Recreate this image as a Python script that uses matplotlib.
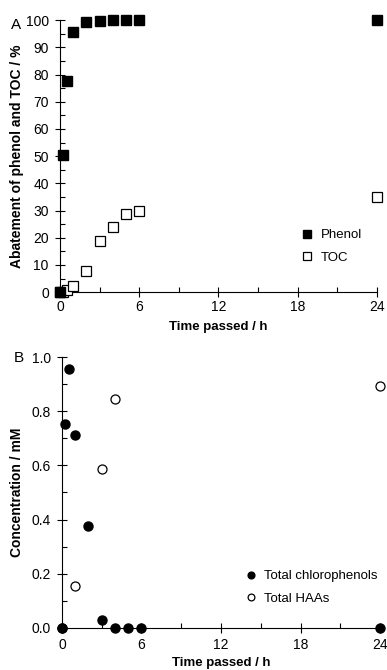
import matplotlib.pyplot as plt
from matplotlib.ticker import MultipleLocator

plt.rcParams['font.family'] = ['Liberation Sans', 'DejaVu Sans']

# panel A: abatement (%)
t_phenol = [0, 0.25, 0.5, 1, 2, 3, 4, 5, 6, 24]
phenol = [0, 50.3, 77.5, 95.5, 99.3, 99.8, 100, 100, 100, 100]
t_toc = [0, 0.25, 0.5, 1, 2, 3, 4, 5, 6, 24]
toc = [0, 0, 0.9, 2.1, 7.8, 18.9, 24.1, 28.8, 30.0, 35.0]

# panel B: concentration (mM)
t_cp = [0, 0.25, 0.5, 1, 2, 3, 4, 5, 6, 24]
chlorophenols = [0, 0.754, 0.957, 0.714, 0.376, 0.027, 0, 0, 0, 0]
t_haa = [0, 1, 3, 4, 24]
haas = [0, 0.155, 0.588, 0.846, 0.892]

fig = plt.figure(figsize=(3.87, 6.7), dpi=100)
axA = fig.add_axes([0.155, 0.564, 0.819, 0.406])
axB = fig.add_axes([0.160, 0.063, 0.822, 0.404])

def style(ax, xpad, lpad):
    for s in ['top', 'right']:
        ax.spines[s].set_visible(False)
    ax.set_xlim(0, 24)
    ax.xaxis.set_major_locator(MultipleLocator(6))
    ax.xaxis.set_minor_locator(MultipleLocator(3))
    ax.tick_params(which='major', direction='inout', length=7, width=0.8, labelsize=10)
    ax.tick_params(which='minor', direction='in', length=3.5, width=0.8)
    ax.tick_params(axis='x', pad=xpad)
    ax.tick_params(axis='y', pad=4.5)
    ax.set_xlabel('Time passed / h', fontsize=9.5, fontweight='bold', labelpad=lpad)

# A
axA.plot(t_toc, toc, 's', mfc='white', mec='black', mew=0.9, ms=7, clip_on=False, label='TOC', zorder=3)
axA.plot(t_phenol, phenol, 's', color='black', ms=7, clip_on=False, label='Phenol', zorder=4)
style(axA, 2, 5)
axA.set_ylim(0, 100)
axA.yaxis.set_major_locator(MultipleLocator(10))
axA.yaxis.set_minor_locator(MultipleLocator(5))
axA.set_ylabel('Abatement of phenol and TOC / %', fontsize=10, fontweight='bold')
axA.yaxis.set_label_coords(-0.114, 0.5)
h, l = axA.get_legend_handles_labels()
axA.legend(h[::-1], l[::-1], loc='lower right', bbox_to_anchor=(0.99, 0.06), frameon=False,
           fontsize=9.5, markerscale=0.75, handlelength=0.8, handletextpad=0.6, labelspacing=0.8)
axA.text(-0.14, 0.982, 'A', transform=axA.transAxes, fontsize=11, ha='center', va='center')

# B
axB.plot(t_haa, haas, 'o', mfc='white', mec='black', mew=0.9, ms=6.5, clip_on=False, label='Total HAAs', zorder=3)
axB.plot(t_cp, chlorophenols, 'o', color='black', ms=6.5, clip_on=False, label='Total chlorophenols', zorder=4)
style(axB, 4, 3.5)
axB.set_ylim(0, 1.0)
axB.yaxis.set_major_locator(MultipleLocator(0.2))
axB.yaxis.set_minor_locator(MultipleLocator(0.1))
axB.yaxis.set_major_formatter(plt.FormatStrFormatter('%.1f'))
axB.set_ylabel('Concentration / mM', fontsize=10, fontweight='bold')
axB.yaxis.set_label_coords(-0.12, 0.5)
h, l = axB.get_legend_handles_labels()
axB.legend(h[::-1], l[::-1], loc='lower right', bbox_to_anchor=(1.03, 0.04), frameon=False,
           fontsize=9.5, markerscale=0.75, handlelength=0.8, handletextpad=0.6, labelspacing=0.8)
axB.text(-0.135, 0.995, 'B', transform=axB.transAxes, fontsize=11, ha='center', va='center')

fig.savefig('out.png', dpi=100)
